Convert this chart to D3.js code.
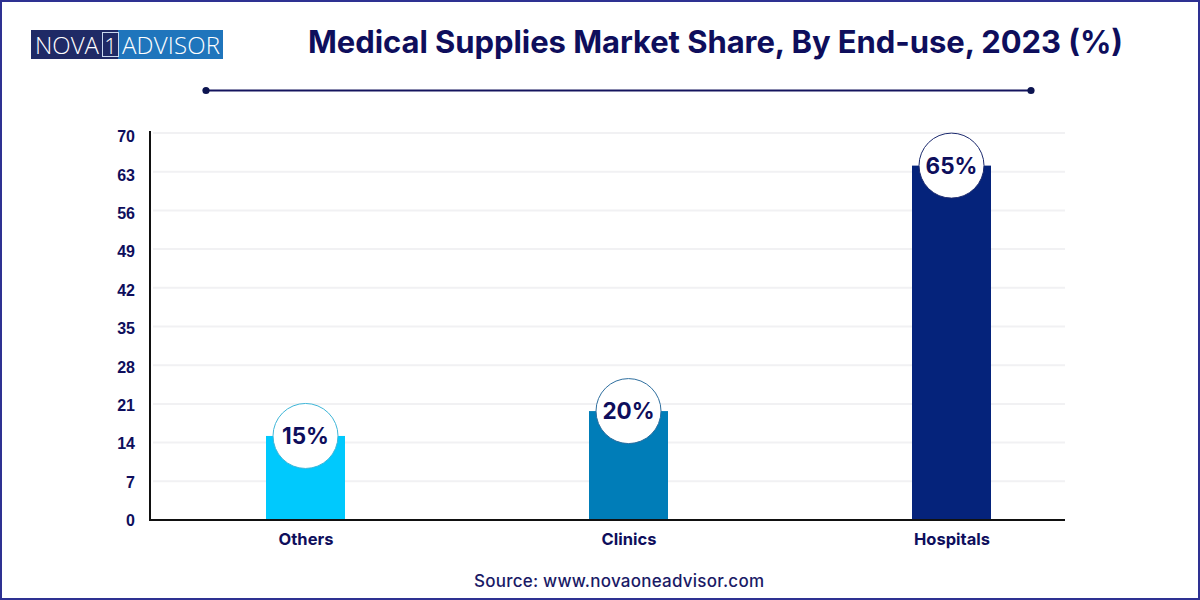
<!DOCTYPE html>
<html>
<head>
<meta charset="utf-8">
<script src="https://cdn.jsdelivr.net/npm/d3@7"></script>
<style>
html, body { margin: 0; padding: 0; background: #fff; }
svg { display: block; }
</style>
</head>
<body>
<script>
// values
const categories = ['Others', 'Clinics', 'Hospitals']
const barValues = [15.2, 19.7, 64.1]
const barLabels = ['15%', '20%', '65%']
const barColors = ['#00c9fd', '#007db8', '#05237b']
const ringColors = ['#3fb6d8', '#2f6f9f', '#1c2a6e']
const yTicks = [0, 7, 14, 21, 28, 35, 42, 49, 56, 63, 70]

const navy = '#0e0e5c'
const width = 1200, height = 600

const svg = d3.select(document.body).append('svg')
    .attr('width', width)
    .attr('height', height)
    .attr('viewBox', `0 0 ${width} ${height}`)

// page frame
svg.append('rect')
    .attr('x', 1).attr('y', 1)
    .attr('width', width - 2).attr('height', height - 2)
    .attr('fill', '#fff')
    .attr('stroke', '#2e3192')
    .attr('stroke-width', 2)

// logo
const logo = svg.append('g').attr('font-family', '"Open Sans", sans-serif').attr('font-weight', 300).attr('fill', '#fff')
logo.append('rect').attr('x', 31).attr('y', 30).attr('width', 192).attr('height', 29).attr('fill', '#1f75bc')
logo.append('rect').attr('x', 31).attr('y', 30).attr('width', 87).attr('height', 29).attr('fill', '#1f2a66')
logo.append('rect').attr('x', 102.5).attr('y', 32.5).attr('width', 16).attr('height', 24)
    .attr('fill', 'none').attr('stroke', '#c9d8ee').attr('stroke-width', 1)
logo.append('text').attr('x', 35).attr('y', 53.5).attr('font-size', 24).attr('textLength', 64).text('NOVA')
logo.append('text').attr('x', 110.5).attr('y', 53.5).attr('font-size', 22).attr('text-anchor', 'middle').text('1')
logo.append('text').attr('x', 122).attr('y', 53.5).attr('font-size', 24).attr('textLength', 98).text('ADVISOR')

// title
svg.append('text')
    .attr('x', 715.5).attr('y', 52.5)
    .attr('text-anchor', 'middle')
    .attr('font-family', 'Inter, sans-serif')
    .attr('font-weight', 700)
    .attr('font-size', 31)
    .attr('fill', navy)
    .attr('textLength', 815)
    .text('Medical Supplies Market Share, By End-use, 2023 (%)')

// rule under the title
svg.append('line')
    .attr('x1', 206).attr('x2', 1031).attr('y1', 90.5).attr('y2', 90.5)
    .attr('stroke', '#14145e').attr('stroke-width', 2)
svg.selectAll('circle.end').data([206, 1031]).join('circle')
    .attr('class', 'end')
    .attr('cx', d => d).attr('cy', 90.5).attr('r', 3.6)
    .attr('fill', '#0c1450')

// scales
const y = d3.scaleLinear().domain([0, 70]).range([520, 133])
// the tick labels sit on a slightly tighter step than the grid
const yLabel = d3.scaleLinear().domain([0, 70]).range([520.5, 136.5])
const x = d3.scalePoint().domain(categories).range([305.5, 951.5])
const barWidth = 79
const circleR = 32.5
const axisLeft = 150, axisRight = 1065, axisTop = 131

// grid
svg.append('g').selectAll('line').data(yTicks.slice(1)).join('line')
    .attr('x1', axisLeft + 3).attr('x2', axisRight)
    .attr('y1', d => y(d)).attr('y2', d => y(d))
    .attr('stroke', '#f1f1f3').attr('stroke-width', 2)

// bars
const rows = categories.map((c, i) => ({ c, v: barValues[i], label: barLabels[i], color: barColors[i], ring: ringColors[i] }))

svg.append('g').selectAll('rect').data(rows).join('rect')
    .attr('x', d => x(d.c) - barWidth / 2)
    .attr('y', d => y(d.v))
    .attr('width', barWidth)
    .attr('height', d => y(0) - y(d.v))
    .attr('fill', d => d.color)

// value badges
const badge = svg.append('g').selectAll('g').data(rows).join('g')
    .attr('transform', d => `translate(${x(d.c)},${y(d.v)})`)
badge.append('circle')
    .attr('r', circleR)
    .attr('fill', '#fff')
    .attr('stroke', d => d.ring)
    .attr('stroke-width', 1)
badge.append('text')
    .attr('text-anchor', 'middle')
    .attr('y', 8)
    .attr('font-family', 'Inter, sans-serif')
    .attr('font-weight', 700)
    .attr('font-size', 22.5)
    .attr('fill', navy)
    .text(d => d.label)

// y axis
const yAxis = svg.append('g')
    .attr('transform', `translate(${axisLeft},0)`)
    .call(d3.axisLeft(yLabel).tickValues(yTicks).tickSize(0).tickPadding(15))
yAxis.select('.domain')
    .attr('d', `M0,${axisTop}V${y(0)}`)
    .attr('stroke', '#111').attr('stroke-width', 2)
yAxis.selectAll('text')
    .attr('font-family', '"Liberation Sans", Arial, sans-serif')
    .attr('font-weight', 700)
    .attr('font-size', 16)
    .attr('fill', navy)

// x axis
const xAxis = svg.append('g')
    .attr('transform', 'translate(0,520)')
    .call(d3.axisBottom(x).tickSize(0))
xAxis.select('.domain')
    .attr('d', `M${axisLeft - 1},0H${axisRight}`)
    .attr('stroke', '#111').attr('stroke-width', 2)
xAxis.selectAll('text')
    .attr('y', 25)
    .attr('dy', 0)
    .attr('font-family', 'Inter, "Liberation Sans", sans-serif')
    .attr('font-weight', 700)
    .attr('font-size', 16.5)
    .attr('fill', navy)

// source
svg.append('text')
    .attr('x', 619).attr('y', 587)
    .attr('text-anchor', 'middle')
    .attr('font-family', 'Inter, sans-serif')
    .attr('font-weight', 500)
    .attr('font-size', 17)
    .attr('fill', '#1a1a66')
    .attr('textLength', 290)
    .text('Source: www.novaoneadvisor.com')
</script>
</body>
</html>
